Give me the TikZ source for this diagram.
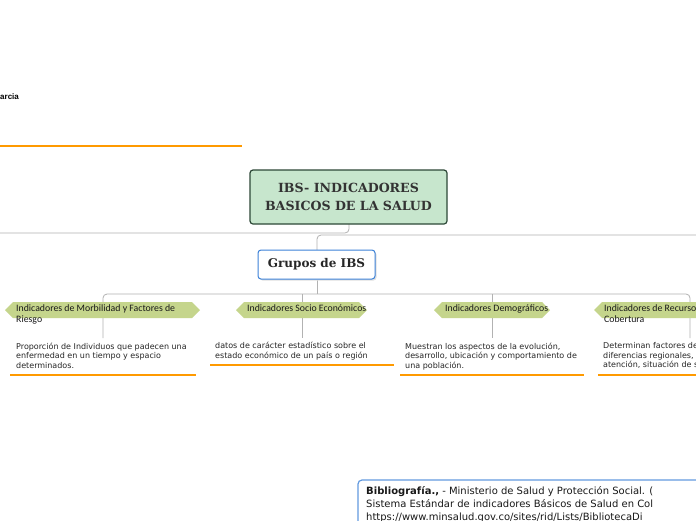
\documentclass[tikz,border=0pt]{standalone}
\usepackage{fontspec}
\setmainfont{DejaVu Sans}
\newfontfamily\slab{DejaVu Serif}
\newfontfamily\tagfont{Carlito}
\newfontfamily\arialfont{Liberation Sans}
\definecolor{conn}{RGB}{178,178,178}
\definecolor{orangeline}{RGB}{255,154,0}
\definecolor{tagfill}{RGB}{197,213,140}
\definecolor{mainfill}{RGB}{199,230,205}
\definecolor{maindraw}{RGB}{45,72,55}
\definecolor{bluedraw}{RGB}{60,130,216}
\tikzset{
  x=1pt,y=-1pt,
  connector/.style={draw=conn,line width=0.8pt,rounded corners=4pt},
  uline/.style={draw=orangeline,line width=2.6pt},
  tagshape/.style={fill=tagfill,draw=none},
  taglabel/.style={font=\tagfont\fontsize{9.8}{11}\selectfont,inner sep=0pt,anchor=north west,align=left,text=black!90},
  desc/.style={font=\fontsize{8}{9.5}\selectfont,inner sep=0pt,anchor=north west,align=left,text=black!85},
}
\begin{document}
\begin{tikzpicture}
\useasboundingbox (0,0) rectangle (696,520);
\clip (0,0) rectangle (696,520);
\fill[white] (0,0) rectangle (696,520);

% top-left fragment
\node[font=\arialfont\bfseries\fontsize{8}{9}\selectfont,inner sep=0pt,anchor=west] (arcia) at (0,97) {arcia};
\draw[uline] (0,146) -- (242,146);

% connectors from main
\draw[connector] (0,233) -- (349,233) -- (349,224);
\draw[connector] (696,235) -- (317,235) -- (317,250);
\draw[connector] (317,279) -- (317,294);
\draw[connector] (103,338) -- (103,294) -- (690,294) -- (690,338);
\draw[connector] (302,294) -- (302,338);
\draw[connector] (492,294) -- (492,338);

% main node
\node[draw=maindraw,fill=mainfill,line width=1.2pt,rounded corners=3pt,minimum width=197pt,minimum height=54pt,align=center,inner sep=0pt,font=\slab\bfseries\fontsize{12.6}{18}\selectfont,text=black!80] (main) at (348.5,197) {IBS- INDICADORES\\BASICOS DE LA SALUD};

% grupos node
\fill[black!12,rounded corners=3pt] (259.5,251.5) rectangle (376.5,280.5);
\node[draw=bluedraw,fill=white,line width=1pt,rounded corners=3pt,minimum width=117pt,minimum height=29pt,inner sep=0pt,font=\slab\bfseries\fontsize{12}{13}\selectfont,text=black!85] (grupos) at (316.5,264.5) {Grupos de IBS};

% tags
\fill[tagshape] (5,310) -- (13,302) -- (192,302) -- (200,310) -- (192,318) -- (13,318) -- cycle;
\fill[tagshape] (236,310) -- (244,302) -- (359,302) -- (367,310) -- (359,318) -- (244,318) -- cycle;
\fill[tagshape] (434,310) -- (442,302) -- (542,302) -- (550,310) -- (542,318) -- (442,318) -- cycle;
\fill[tagshape] (594,310) -- (602,302) -- (790,302) -- (798,310) -- (790,318) -- (602,318) -- cycle;

\node[taglabel] (t1) at (16,304) {Indicadores de Morbilidad y Factores de\\Riesgo};
\node[taglabel] (t2) at (247,304) {Indicadores Socio Económicos};
\node[taglabel] (t3) at (445,304) {Indicadores Demográficos};
\node[taglabel] (t4) at (604,304) {Indicadores de Recursos\\Cobertura};

% descriptions
\node[desc] (d1) at (16,342.5) {Proporción de Individuos que padecen una\\enfermedad en un tiempo y espacio\\determinados.};
\node[desc] (d2) at (215,342) {datos de carácter estadístico sobre el\\estado económico de un país o región};
\node[desc] (d3) at (405,342.5) {Muestran los aspectos de la evolución,\\desarrollo, ubicación y comportamiento de\\una población.};
\node[desc] (d4) at (603,342.5) {Determinan factores de\\diferencias regionales,\\atención, situación de s};

\draw[uline] (10,375) -- (196,375);
\draw[uline] (210,365) -- (394,365);
\draw[uline] (400,375) -- (584,375);
\draw[uline] (598,375) -- (700,375);

% bibliography
\draw[draw=bluedraw!80,fill=white,line width=1.2pt,rounded corners=4pt] (358,480) rectangle (800,600);
\node[font=\fontsize{10}{13}\selectfont,inner sep=0pt,anchor=north west,align=left,text=black!90] (bib) at (366,486.5) {\textbf{Bibliografía.,} - Ministerio de Salud y Protección Social. (\\Sistema Estándar de indicadores Básicos de Salud en Col\\https://www.minsalud.gov.co/sites/rid/Lists/BibliotecaDi};
\end{tikzpicture}
\end{document}
